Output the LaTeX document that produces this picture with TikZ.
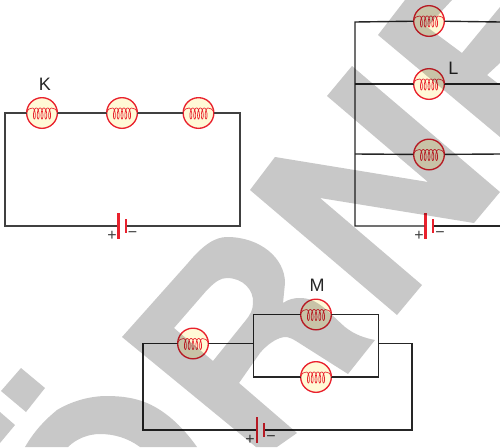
\documentclass[tikz,border=0pt]{standalone}
\usepackage{fontspec}
\setmainfont{Liberation Sans}
\definecolor{bulbred}{HTML}{E9212D}
\definecolor{bulbfill}{HTML}{FFF9D6}
\definecolor{wirecol}{HTML}{262626}
\definecolor{softwire}{HTML}{404040}
\definecolor{markgray}{HTML}{C8C8C8}
\tikzset{
  bulb/.style={circle,draw=bulbred,fill=bulbfill,line width=1pt,minimum size=23pt,inner sep=0pt,outer sep=0pt},
  wire/.style={draw=wirecol,line width=1.05pt,line join=miter},
  softline/.style={draw=softwire,line width=1.2pt,line join=miter},
  coil/.style={draw=bulbred,line width=.5pt},
  longplate/.style={rectangle,fill=bulbred,minimum width=1.7pt,minimum height=19.5pt,inner sep=0pt,outer sep=0pt},
  shortplate/.style={rectangle,fill=bulbred,minimum width=1.7pt,minimum height=9.8pt,inner sep=0pt,outer sep=0pt},
  sign/.style={text=softwire,font=\fontsize{12}{12}\selectfont,inner sep=0pt},
  tag/.style={text=wirecol,font=\fontsize{13.5}{13.5}\selectfont,inner sep=0pt},
  wmark/.style={fill=markgray,blend mode=multiply,even odd rule}
}
\newcommand{\lampcoil}[1]{%
  \draw[coil,shift={(#1)}] (-15.5,0) .. controls (-14,-4) and (-12,-5) .. (-9.5,-5);
  \draw[coil,shift={(#1)}] plot[domain=0:1800,samples=160,variable=\t] ({\t/94.7-9.5+1.8*sin(\t)},{.5-5.5*cos(\t)});
  \draw[coil,shift={(#1)}] (9.5,-5) .. controls (12,-5) and (14,-4) .. (15.5,0);
}
\begin{document}
\begin{tikzpicture}[x=.75pt,y=-.75pt]
\useasboundingbox (0,0) rectangle (500,447);
\fill[white] (0,0) rectangle (500,447);
% circuit K
\node[bulb] (k1) at (42,113) {};
\node[bulb] (k2) at (122,113) {};
\node[bulb] (k3) at (198.5,113) {};
\node[longplate] (kp) at (118.5,226) {};
\node[shortplate] (kn) at (126,226) {};
\coordinate (ktl) at (5,113);
\coordinate (ktr) at (240,113);
\coordinate (kbl) at (5,226);
\coordinate (kbr) at (240,226);
\draw[softline] (k3) -- (ktr) -- (kbr) -- (kn);
\draw[softline] (kp) -- (kbl) -- (ktl) -- (k1);
\draw[softline] (k1) -- (k2);
\draw[softline] (k2) -- (k3);
\lampcoil{k1}\lampcoil{k2}\lampcoil{k3}
\node[sign] (kplus) at (112,235.5) {+};
\node[sign] (kminus) at (132.5,234.5) {−};
\node[tag] (klabel) at (45,84) {K};
% circuit L
\node[bulb] (l1) at (429,21) {};
\node[bulb] (l2) at (429,84) {};
\node[bulb] (l3) at (429,154.5) {};
\node[longplate] (lp) at (425.6,226) {};
\node[shortplate] (ln) at (433,226) {};
\coordinate (ltl) at (355,22);
\coordinate (lml) at (355,84);
\coordinate (lnl) at (355,154);
\coordinate (lbl) at (355,226);
\coordinate (ltr) at (500,22);
\coordinate (lmr) at (500,84);
\coordinate (lnr) at (500,154);
\coordinate (lbr) at (500,226);
\draw[wire] (l1) -- (ltl) -- (lml) -- (lnl) -- (lbl) -- (lp);
\draw[wire] (lml) -- (l2);
\draw[wire] (lnl) -- (l3);
\draw[wire] (l1) -- (ltr);
\draw[wire] (l2) -- (lmr);
\draw[wire] (l3) -- (lnr);
\draw[wire] (ln) -- (lbr);
\lampcoil{l1}\lampcoil{l2}\lampcoil{l3}
\node[sign] (lplus) at (419,235.5) {+};
\node[sign] (lminus) at (440,234.5) {−};
\node[tag] (llabel) at (453.5,68) {L};
% circuit M
\node[bulb] (m1) at (193,343.5) {};
\node[bulb] (m2) at (316,314.5) {};
\node[bulb] (m3) at (316,377) {};
\node[longplate] (mp) at (256.7,430) {};
\node[shortplate] (mn) at (264,430) {};
\coordinate (mol) at (143,343.5);
\coordinate (mbl) at (143,430);
\coordinate (mbr) at (412,430);
\coordinate (mor) at (412,343.5);
\coordinate (mjr) at (378.5,343.5);
\coordinate (mjl) at (253.7,343.5);
\coordinate (mtl) at (253.7,314.5);
\coordinate (mtr) at (378.5,314.5);
\coordinate (mll) at (253.7,377);
\coordinate (mlr) at (378.5,377);
\draw[wire] (m1) -- (mol) -- (mbl) -- (mp);
\draw[wire] (mn) -- (mbr) -- (mor) -- (mjr);
\draw[wire] (m1) -- (mjl);
\draw[wire] (m2) -- (mtl) -- (mll) -- (m3);
\draw[wire] (m2) -- (mtr) -- (mlr) -- (m3);
\lampcoil{m1}\lampcoil{m2}\lampcoil{m3}
\node[sign] (mplus) at (250,439.5) {+};
\node[sign] (mminus) at (271,438.5) {−};
\node[tag] (mlabel) at (317,285) {M};
% background lettering
\fill[wmark] (250,190) -- (275,157) -- (428,182) -- (327,96) -- (352,66) -- (500,192) -- (474,223) -- (320,198) -- (422,285) -- (397,315) -- cycle;
\fill[wmark] (378,35) -- (405,0) -- (452,0) -- (427,27) -- (462,53) -- (500,7) -- (500,63) -- (487,75) -- (500,85) -- (500,137) -- cycle;
\fill[wmark] (122,337) -- (188,263) .. controls (203,245) and (215,237) .. (227,237) .. controls (260,237) and (285,258) .. (285,283) -- (283,303) .. controls (289,299) and (294,298) .. (300,298) .. controls (318,298) and (328,312) .. (345,327) .. controls (355,335) and (365,338) .. (375,340) -- (348,374) -- (296,341) .. controls (290,337) and (285,336) .. (280,338) .. controls (272,341) and (265,347) .. (260,353) -- (239,383) -- (297,433) -- (277,447) -- (256,447) -- cycle
 (174,328) -- (207,290) .. controls (215,282) and (220,278) .. (227,278) .. controls (243,278) and (254,290) .. (253,303) .. controls (253,310) and (250,315) .. (246,320) -- (213,361) -- cycle;
\fill[wmark] (25,447) .. controls (35,430) and (45,420) .. (57,410) .. controls (72,401) and (90,396) .. (107,396) .. controls (122,396) and (135,398) .. (147,403) .. controls (168,412) and (185,430) .. (197,447) -- (140,447) .. controls (128,438) and (114,434) .. (100,434) .. controls (88,434) and (76,439) .. (68,447) -- cycle;
\fill[wmark] (21,368) -- (45,388) -- (26,412) -- (1,391) -- cycle;
\fill[wmark] (0,412) -- (15,425) -- (0,443) -- cycle;
\end{tikzpicture}
\end{document}
